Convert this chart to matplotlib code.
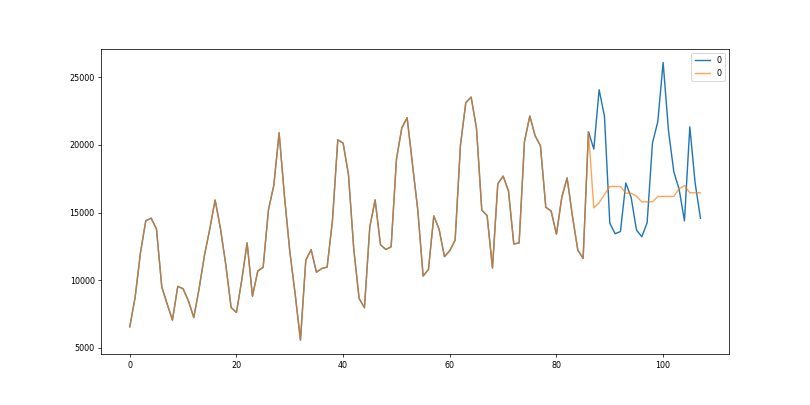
import matplotlib
matplotlib.use("Agg")
import matplotlib.pyplot as plt

plt.rcParams["font.size"] = 8.5

sales = [6550, 8728, 12026, 14395, 14587, 13791, 9498, 8251, 7049, 9545, 9364, 8456,
         7237, 9374, 11837, 13784, 15926, 13821, 11143, 7975, 7610, 10015, 12759, 8816,
         10677, 10947, 15200, 17010, 20900, 16205, 12143, 8997, 5568, 11474, 12256, 10583,
         10862, 10965, 14405, 20379, 20128, 17816, 12268, 8642, 7962, 13932, 15936, 12628,
         12267, 12470, 18944, 21259, 22015, 18581, 15175, 10306, 10792, 14752, 13754, 11738,
         12181, 12965, 19990, 23125, 23541, 21247, 15189, 14767, 10895, 17130, 17697, 16611,
         12674, 12760, 20249, 22135, 20677, 19933, 15388, 15113, 13401, 16135, 17562, 14720,
         12225, 11608, 20985, 19692, 24081, 22114, 14220, 13434, 13598, 17187, 16119, 13713,
         13210, 14251, 20139, 21725, 26099, 21084, 18024, 16722, 14385, 21342, 17180, 14577]

forecast_start = 87
forecast = [15350, 15720, 16330, 16930, 16930, 16930, 16430, 16430, 16210, 15790, 15790,
            15790, 16190, 16190, 16190, 16190, 16750, 17000, 16460, 16460, 16460]

predicted = sales[:forecast_start] + forecast

fig, ax = plt.subplots(figsize=(12, 6), dpi=67.5)
fig.subplots_adjust(left=0.125, right=0.9, top=0.88, bottom=0.126)
ax.plot(range(len(sales)), sales, color="C0", label="0")
ax.plot(range(len(predicted)), predicted, color="C1", alpha=0.7, label="0")
ax.legend(loc="upper right")
fig.savefig("out.png", dpi=67.5)
